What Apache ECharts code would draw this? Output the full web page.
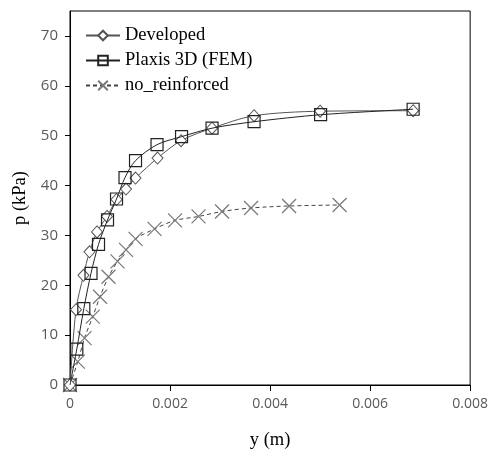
<!DOCTYPE html>
<html><head><meta charset="utf-8">
<script src="https://cdn.jsdelivr.net/npm/echarts@6/dist/echarts.min.js"></script>
<style>html,body{margin:0;padding:0;background:#fff}#c{width:491px;height:456px}</style>
</head><body><div id="c"></div>
<script>
const developed = [[0,0],[0.00012,15.1],[0.00027,22.0],[0.00039,26.7],[0.00054,30.7],[0.00074,33.8],[0.00093,37.2],[0.00112,39.3],[0.00131,41.5],[0.00175,45.5],[0.00222,49.0],[0.00284,51.5],[0.00368,54.0],[0.0050,54.9],[0.00686,55.0]];
const plaxis = [[0,0],[0.000136,7.2],[0.000276,15.3],[0.00042,22.4],[0.00057,28.2],[0.00075,33.1],[0.00093,37.3],[0.0011,41.6],[0.00131,45.0],[0.00174,48.2],[0.00223,49.8],[0.00284,51.5],[0.00368,52.8],[0.00501,54.2],[0.00686,55.3]];
const noReinforced = [[0,0],[0.000156,4.7],[0.00029,9.4],[0.000455,13.7],[0.0006,17.7],[0.00077,21.7],[0.00095,24.8],[0.00112,27.1],[0.00131,29.3],[0.00169,31.3],[0.0021,33.0],[0.00257,33.8],[0.00304,34.8],[0.00362,35.5],[0.00438,35.9],[0.00539,36.1]];
const seriesNames = ['Developed','Plaxis 3D (FEM)','no_reinforced'];
const xTicks = {min:0,max:0.008,interval:0.002};
const yTicks = {min:0,max:75,interval:10};

const chart = echarts.init(document.getElementById('c'));
const serif = '"Liberation Serif","DejaVu Serif",serif';
const sans = '"Open Sans","Noto Sans",sans-serif';
chart.setOption({
  animation:false,
  backgroundColor:'#fff',
  grid:{left:70,right:20,top:11,bottom:71,show:true,borderColor:'#000',borderWidth:1},
  legend:{
    orient:'vertical',left:80,top:21,itemWidth:34,itemHeight:12,itemGap:6,
    textStyle:{fontFamily:serif,fontSize:18.5,color:'#000'},
    data:seriesNames
  },
  xAxis:{
    type:'value',min:xTicks.min,max:xTicks.max,interval:xTicks.interval,
    name:'y (m)',nameLocation:'middle',nameGap:46,
    nameTextStyle:{fontFamily:serif,fontSize:18.5,color:'#000'},
    axisLine:{lineStyle:{color:'#000',width:1}},
    axisTick:{show:true,length:6,lineStyle:{color:'#000'}},
    splitLine:{show:false},
    axisLabel:{fontFamily:sans,fontSize:14,color:'#595959',margin:12,formatter:v=>v===0?'0':v.toFixed(3)}
  },
  yAxis:{
    type:'value',min:yTicks.min,max:yTicks.max,interval:yTicks.interval,
    name:'p (kPa)',nameLocation:'middle',nameGap:33,nameRotate:90,
    nameTextStyle:{fontFamily:serif,fontSize:18.5,color:'#000'},
    axisLine:{show:true,lineStyle:{color:'#000',width:1}},
    axisTick:{show:true,length:5,lineStyle:{color:'#000'}},
    splitLine:{show:false},
    axisLabel:{fontFamily:sans,fontSize:15,color:'#595959',margin:12,showMaxLabel:false}
  },
  series:[
    {name:seriesNames[0],type:'line',data:developed,smooth:0.3,
     symbol:'path://M5,0L10,6L5,12L0,6Z',symbolSize:[11,12],
     lineStyle:{color:'#555',width:1},
     itemStyle:{color:'#fff',borderColor:'#555',borderWidth:1},z:3},
    {name:seriesNames[1],type:'line',data:plaxis,smooth:0.3,
     symbol:'rect',symbolSize:12,
     lineStyle:{color:'#222',width:1},
     itemStyle:{color:'rgba(255,255,255,0)',borderColor:'#222',borderWidth:1.2},z:4},
    {name:seriesNames[2],type:'line',data:noReinforced,smooth:0.3,
     symbol:'path://M0,0L10,10M10,0L0,10',symbolSize:14,
     lineStyle:{color:'#444',width:1,type:[4,3]},
     itemStyle:{color:'none',borderColor:'#777',borderWidth:1.2},z:2}
  ]
});
</script></body></html>
